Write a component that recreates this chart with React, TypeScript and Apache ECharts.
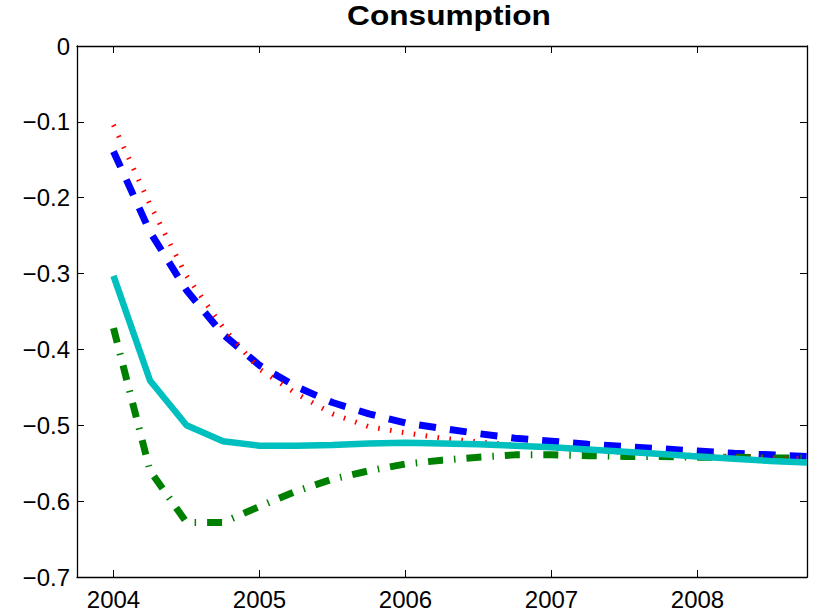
import React, { useEffect, useRef } from "react";
import * as echarts from "echarts";

const quarters = [
  2004, 2004.25, 2004.5, 2004.75,
  2005, 2005.25, 2005.5, 2005.75,
  2006, 2006.25, 2006.5, 2006.75,
  2007, 2007.25, 2007.5, 2007.75,
  2008, 2008.25, 2008.5, 2008.75,
];

const blueDashed = [
  -0.139, -0.245, -0.322, -0.38,
  -0.421, -0.449, -0.47, -0.485,
  -0.497, -0.504, -0.511, -0.517,
  -0.521, -0.525, -0.528, -0.531,
  -0.534, -0.537, -0.539, -0.541,
];

const redDotted = [
  -0.104, -0.209, -0.303, -0.371,
  -0.426, -0.458, -0.485, -0.502,
  -0.51, -0.517, -0.522, -0.526,
  -0.53, -0.533, -0.536, -0.538,
  -0.54, -0.541, -0.543, -0.544,
];

const greenDashDot = [
  -0.372, -0.56, -0.628, -0.628,
  -0.607, -0.587, -0.571, -0.56,
  -0.551, -0.546, -0.542, -0.539,
  -0.539, -0.54, -0.541, -0.541,
  -0.542, -0.542, -0.543, -0.543,
];

const cyanSolid = [
  -0.303, -0.441, -0.5, -0.521,
  -0.527, -0.527, -0.526, -0.524,
  -0.523, -0.524, -0.525, -0.527,
  -0.529, -0.532, -0.535, -0.538,
  -0.541, -0.544, -0.547, -0.549,
];

const xTickYears = [2004, 2005, 2006, 2007, 2008];
const titleText = "Consumption";

const FONT = "Liberation Sans, Arial, Helvetica, sans-serif";

function pairs(ys: number[]) {
  return quarters.map((x, i) => [x, ys[i]]);
}

function fmtY(v: number) {
  const r = Math.round(v * 10) / 10;
  if (r === 0) return "0";
  return (r < 0 ? "\u2212" : "") + Math.abs(r).toFixed(1);
}

export default function App() {
  const ref = useRef<HTMLDivElement>(null);
  useEffect(() => {
    if (!ref.current) return;
    const chart = echarts.init(ref.current, null, { renderer: "svg" });
    const axisLine = { show: true, onZero: false, lineStyle: { color: "#000", width: 1.3 } };
    const tick = { show: true, inside: true, length: 7, lineStyle: { color: "#000", width: 1 } };
    const xBase = {
      type: "value",
      min: 2003.75,
      max: 2008.75,
      splitLine: { show: false },
      axisLine,
    };
    const yBase = {
      type: "value",
      min: -0.7,
      max: 0,
      interval: 0.1,
      splitLine: { show: false },
      axisLine,
      axisTick: tick,
    };
    chart.setOption({
      animation: false,
      backgroundColor: "#fff",
      graphic: [
        {
          type: "text",
          x: 449,
          y: 15,
          scaleX: 1.13,
          style: {
            text: titleText,
            fontFamily: FONT,
            fontWeight: "bold",
            fontSize: 28,
            fill: "#000",
            textAlign: "center",
            textVerticalAlign: "middle",
          },
        },
      ],
      grid: { left: 77, right: 11, top: 46, bottom: 39, containLabel: false, outerBoundsMode: "none" },
      xAxis: [
        {
          ...xBase,
          position: "bottom",
          axisTick: { ...tick, customValues: xTickYears },
          axisLabel: {
            customValues: xTickYears,
            fontFamily: FONT,
            fontSize: 24,
            color: "#000",
            margin: 10,
            formatter: (v: number) => String(Math.round(v)),
          },
        },
        {
          ...xBase,
          position: "top",
          axisTick: { ...tick, customValues: xTickYears },
          axisLabel: { show: false },
        },
      ],
      yAxis: [
        {
          ...yBase,
          position: "left",
          axisLabel: { fontFamily: FONT, fontSize: 24, color: "#000", margin: 7, formatter: fmtY },
        },
        {
          ...yBase,
          position: "right",
          axisLabel: { show: false },
        },
      ],
      series: [
        {
          type: "line",
          data: pairs(blueDashed),
          showSymbol: false,
          symbol: "none",
          lineStyle: { color: "#0000ff", width: 7, type: [17, 14], cap: "butt" },
        },
        {
          type: "line",
          data: pairs(greenDashDot),
          showSymbol: false,
          symbol: "none",
          lineStyle: { color: "#008000", width: 7, type: [15, 11, 1.5, 11], cap: "butt" },
        },
        {
          type: "line",
          data: pairs(redDotted),
          showSymbol: false,
          symbol: "none",
          lineStyle: { color: "#ff0000", width: 5, type: [1.6, 10.4], cap: "butt" },
        },
        {
          type: "line",
          data: pairs(cyanSolid),
          showSymbol: false,
          symbol: "none",
          lineStyle: { color: "#00bfbf", width: 6.5, type: "solid" },
        },
      ],
    });
    return () => chart.dispose();
  }, []);
  return (
    <div
      ref={ref}
      style={{ position: "fixed", left: 0, top: 0, width: 818, height: 616, background: "#fff" }}
    />
  );
}
